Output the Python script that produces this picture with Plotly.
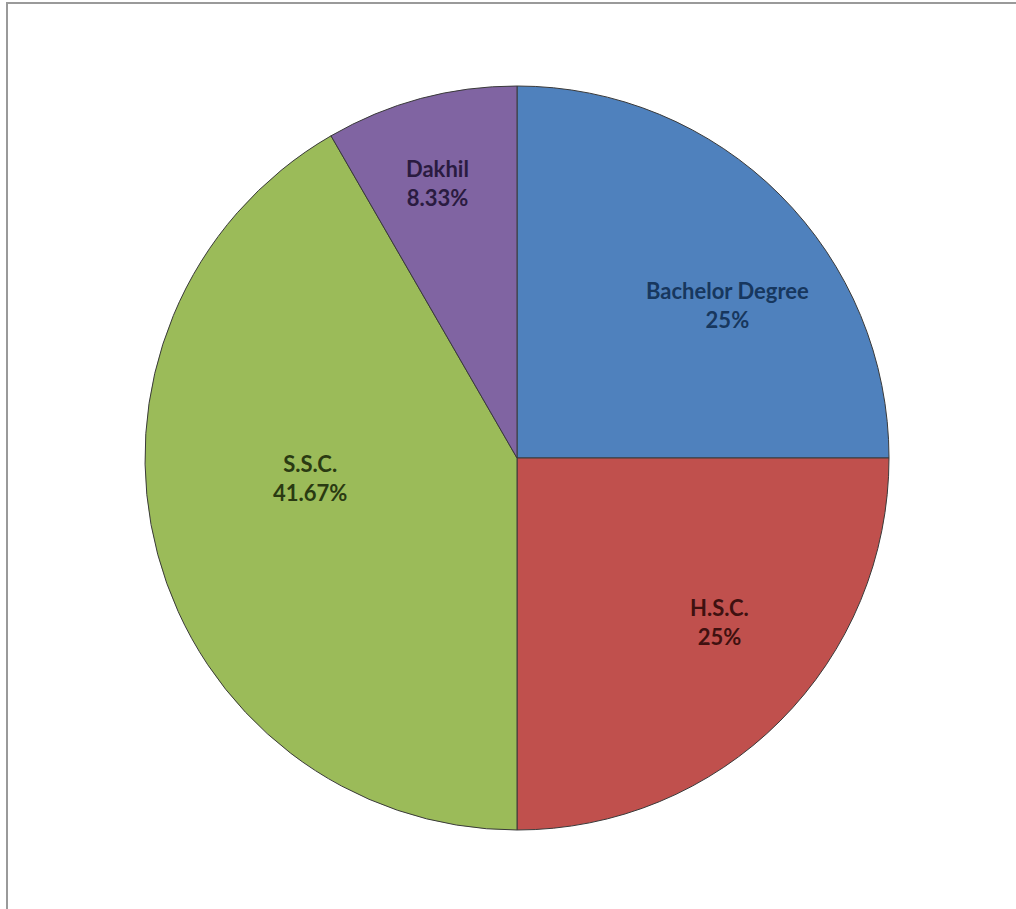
import math
import plotly.graph_objects as go

categories = ["Bachelor Degree", "H.S.C.", "S.S.C.", "Dakhil"]
counts = [3, 3, 5, 1]
pct_labels = ["25%", "25%", "41.67%", "8.33%"]

slice_colors = ["#4F81BD", "#C0504D", "#9BBB59", "#8064A2"]
text_colors = ["#17375E", "#3F1110", "#2A3A12", "#2A1B40"]
# label placement styling: radial fraction of radius and angular nudge (deg)
label_radius = [0.70, 0.70, 0.56, 0.77]
label_nudge = [9, -6, 9.5, -1.2]

W, H = 1016, 909
cx, cy, r = 517, 458, 372

fig = go.Figure(go.Pie(
    labels=categories,
    values=counts,
    text=pct_labels,
    textinfo="none",
    sort=False,
    direction="clockwise",
    rotation=0,
    marker=dict(colors=slice_colors, line=dict(color="#3a3a3a", width=1)),
    hoverinfo="label+text",
    showlegend=False,
    domain=dict(x=[(cx - r) / W, (cx + r) / W],
                y=[(H - cy - r) / H, (H - cy + r) / H]),
))

total = sum(counts)
annotations = []
cum = 0
for cat, v, p, col, f, nud in zip(categories, counts, pct_labels, text_colors, label_radius, label_nudge):
    mid = (cum + v / 2) / total * 360 + nud
    cum += v
    th = math.radians(mid)
    px = cx + r * f * math.sin(th)
    py = (H - cy) + r * f * math.cos(th)
    annotations.append(dict(
        x=px / W, y=py / H, xref="paper", yref="paper",
        text=f"<b>{cat}</b><br><b>{p}</b>", showarrow=False,
        font=dict(family="Lato", size=22, color=col),
        xanchor="center", yanchor="middle", align="center",
    ))

fig.update_layout(
    width=W, height=H,
    margin=dict(l=0, r=0, t=0, b=0),
    paper_bgcolor="white",
    plot_bgcolor="white",
    annotations=annotations,
    shapes=[dict(type="rect", xref="paper", yref="paper",
                 x0=7 / W, x1=1.05, y0=-0.05, y1=1 - 3 / H,
                 line=dict(color="#9a9a9a", width=2), fillcolor="rgba(0,0,0,0)")],
)

fig.write_html("out.html", config={"displayModeBar": False},
               post_script="document.body.style.margin='0';")
